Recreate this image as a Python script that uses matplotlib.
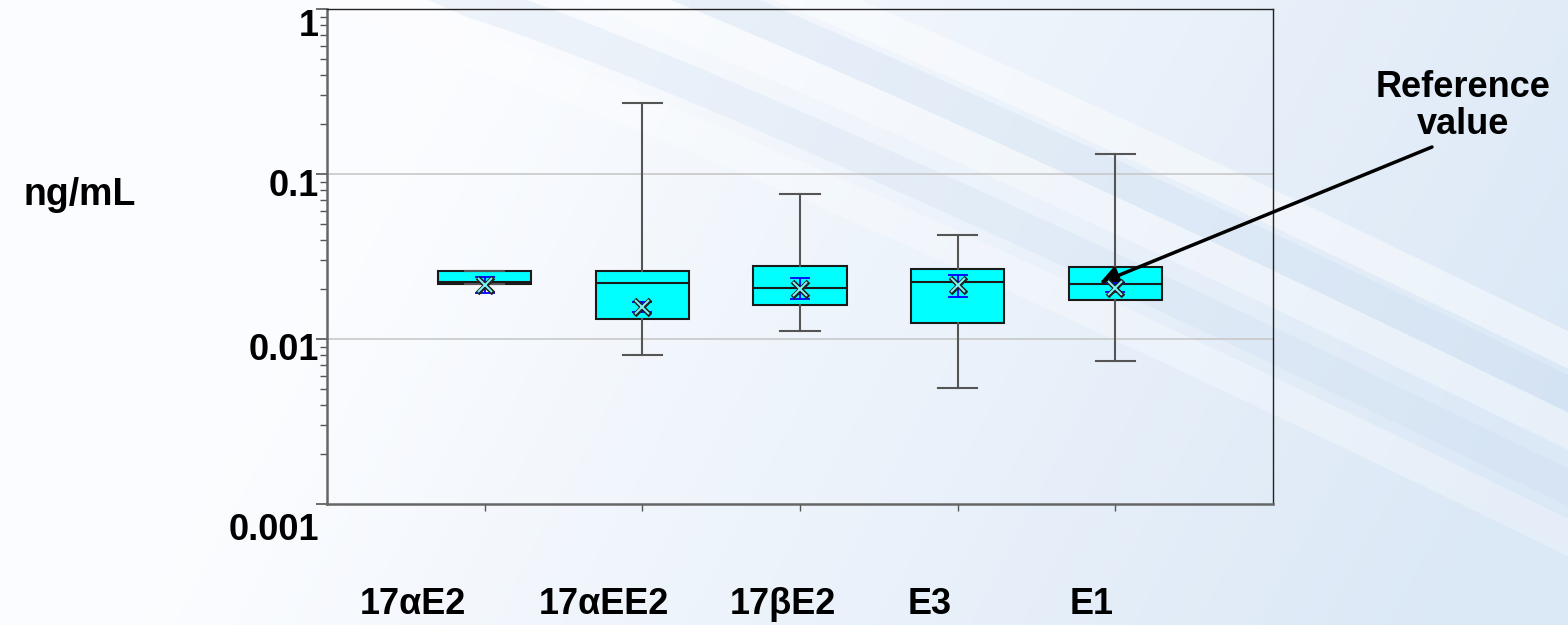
import numpy as np
import matplotlib
matplotlib.use('Agg')
import matplotlib.pyplot as plt
from matplotlib.transforms import ScaledTranslation

plt.rcParams['font.family'] = ['Liberation Sans', 'DejaVu Sans']

categories = ['17αE2', '17αEE2', '17βE2', 'E3', 'E1']
q1 = [0.0216, 0.0133, 0.0160, 0.0125, 0.0173]
q3 = [0.0258, 0.0259, 0.0277, 0.0266, 0.0273]
med = [0.0222, 0.0218, 0.0203, 0.0222, 0.0216]
whislo = [0.0216, 0.0080, 0.0112, 0.00505, 0.00736]
whishi = [0.0258, 0.269, 0.0757, 0.0427, 0.132]
mean = [0.0213, 0.0157, 0.0202, 0.0213, 0.0203]
ci_lo = [0.0190, 0.0145, 0.0174, 0.0180, 0.0192]
ci_hi = [0.0238, 0.0168, 0.0233, 0.0243, 0.0219]
yticks = [0.001, 0.01, 0.1, 1]
ytick_labels = ['0.001', '0.01', '0.1', '1']

W, H = 1568, 625
fig = plt.figure(figsize=(W / 100, H / 100), dpi=100)

# background: soft gradient with a few faint swooshes
bg = fig.add_axes([0, 0, 1, 1], zorder=-10)
gx = np.linspace(0, 1, 400)
gy = np.linspace(0, 1, 200)
GX, GY = np.meshgrid(gx, gy)
t = np.clip((GX - 0.3) * 1.2 + (1 - GY) * 0.25, 0, 1)
c0 = np.array([0.985, 0.99, 1.0])
c1 = np.array([0.86, 0.91, 0.965])
img = c0 + (c1 - c0) * t[..., None]
bg.imshow(img, extent=[0, 1, 0, 1], aspect='auto', origin='lower')
xs = np.linspace(0.0, 1.0, 300)
u = (xs - 0.30) / 0.70
curve = np.where(u > 0, np.abs(u) ** 1.1, u)
for off, col, a in [(0.00, 'white', 0.45), (0.07, '#c3d8ee', 0.25),
                    (0.13, 'white', 0.35), (0.22, '#c8dbef', 0.25),
                    (0.30, 'white', 0.3)]:
    base = 1.25 - off - 0.78 * curve
    bg.fill_between(xs, base - 0.06, base, color=col, alpha=a, lw=0)
bg.set_xlim(0, 1)
bg.set_ylim(0, 1)
bg.axis('off')

ax = fig.add_axes([327 / W, 1 - 504 / H, (1273 - 327) / W, (504 - 9) / H])
ax.patch.set_alpha(0)
ax.set_yscale('log')
ax.set_ylim(0.001, 1)
ax.set_xlim(0, 6)

pos = np.arange(1, len(categories) + 1)
stats = []
for i in range(len(categories)):
    stats.append(dict(med=med[i], q1=q1[i], q3=q3[i], whislo=whislo[i],
                      whishi=whishi[i], fliers=[]))

ax.bxp(stats, positions=pos, widths=0.59, patch_artist=True, showmeans=False,
       capwidths=0.25,
       boxprops=dict(facecolor='#00FFFF', edgecolor='#1a1a1a', linewidth=1.5),
       medianprops=dict(color='#1a1a1a', linewidth=1.5),
       whiskerprops=dict(color='#555555', linewidth=1.5),
       capprops=dict(color='#555555', linewidth=1.5))

mean_arr = np.array(mean)
yerr = [mean_arr - np.array(ci_lo), np.array(ci_hi) - mean_arr]
ax.errorbar(pos, mean_arr, yerr=yerr, fmt='none', ecolor='#0000FF',
            elinewidth=1.3, capsize=7, capthick=1.3, zorder=4)

# hollow x for the means
ax.plot(pos, mean_arr, ls='none', marker='x', ms=12, mew=3.6, color='#222222', zorder=5)
ax.plot(pos, mean_arr, ls='none', marker='x', ms=10.5, mew=1.4, color='#7ff7f7', zorder=6)

for g in [0.01, 0.1]:
    ax.axhline(g, color='#c8c8c8', lw=1.2, zorder=0)

ax.set_yticks(yticks)
ax.set_yticklabels(ytick_labels, fontsize=26, fontweight='bold')
ax.tick_params(axis='y', which='major', direction='out', length=8, width=1.2,
               color='#555555', pad=-2)
ax.tick_params(axis='y', which='minor', direction='out', length=5, width=1,
               color='#555555', labelleft=False)
ax.set_xticks(pos)
ax.set_xticklabels([])
ax.tick_params(axis='x', direction='out', length=5, width=1, color='#555555')

offsets = {'1': -14, '0.1': -8, '0.01': -8, '0.001': -22}
for lab in ax.get_yticklabels():
    dy = offsets.get(lab.get_text(), -8)
    lab.set_transform(lab.get_transform() + ScaledTranslation(0, dy / 100, fig.dpi_scale_trans))

for side in ['left', 'bottom']:
    ax.spines[side].set_color('#666666')
    ax.spines[side].set_linewidth(1.8)
for side in ['top', 'right']:
    ax.spines[side].set_color('#222222')
    ax.spines[side].set_linewidth(1)

# category labels placed under the chart
label_x = [413, 604, 783, 930, 1092]
for name, lx in zip(categories, label_x):
    fig.text(lx / W, 1 - 605 / H, name, ha='center', va='center',
             fontsize=26, fontweight='bold')

fig.text(80 / W, 1 - 195 / H, 'ng/mL', ha='center', va='center',
         fontsize=27, fontweight='bold')

fig.text(1463 / W, 1 - 106 / H, 'Reference\nvalue', ha='center', va='center',
         fontsize=26, fontweight='bold', linespacing=1.1)

ax.annotate('', xy=(pos[4] - 0.1, 0.0218), xycoords='data',
            xytext=(1432, H - 147), textcoords='figure pixels',
            arrowprops=dict(arrowstyle='-|>', color='black', lw=2.5,
                            mutation_scale=28, shrinkA=0, shrinkB=0))

fig.savefig('out.png', dpi=100)
